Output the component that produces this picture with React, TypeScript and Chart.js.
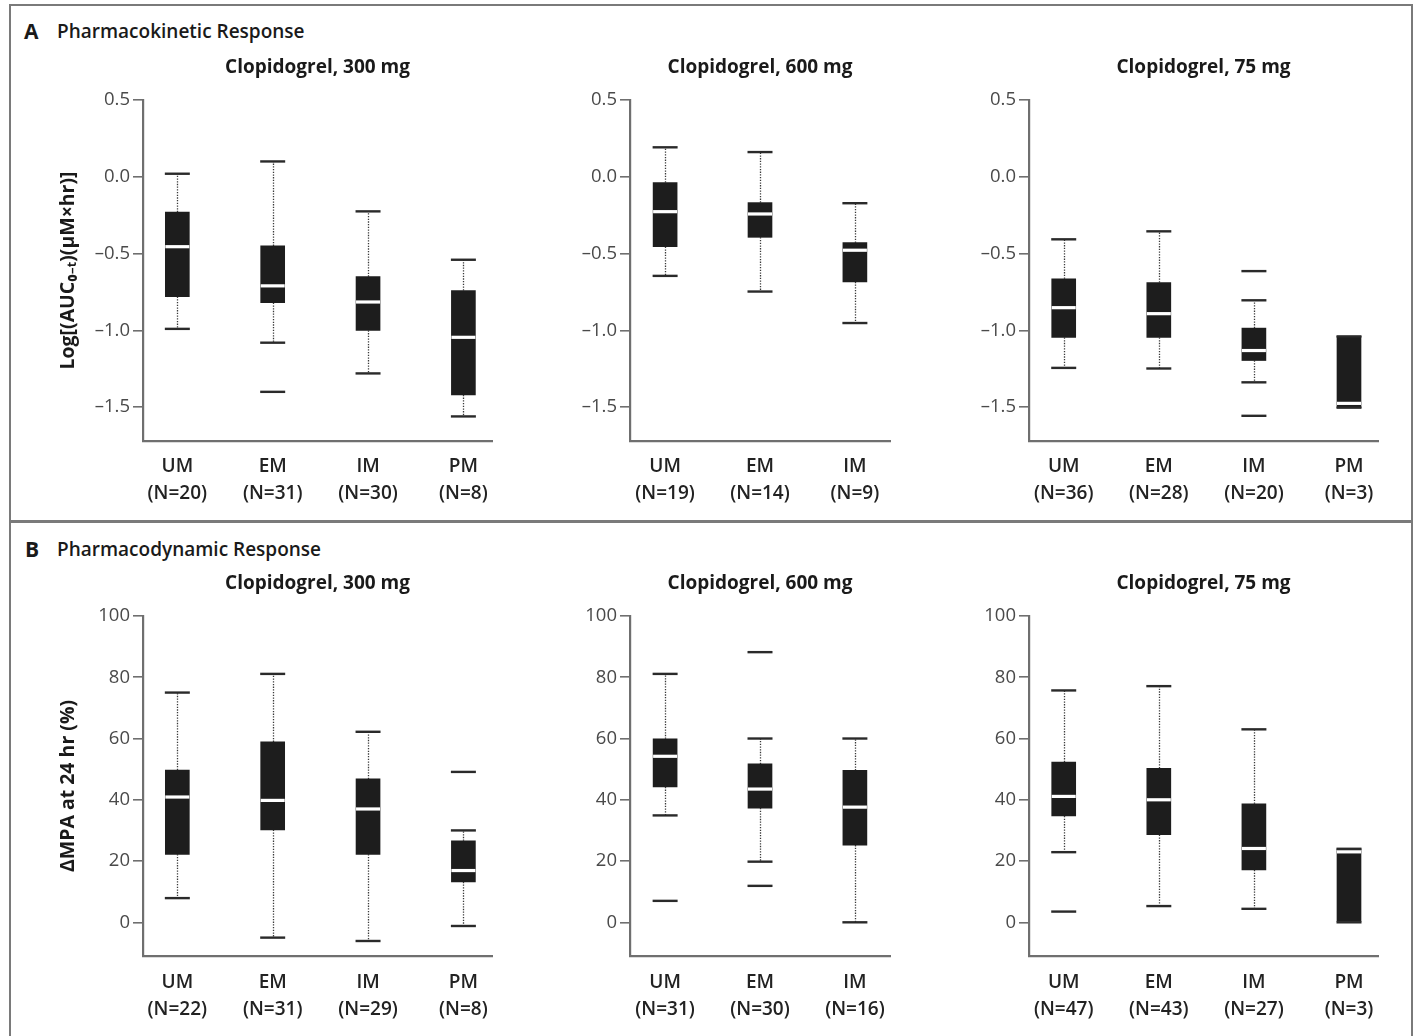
import React, { useEffect, useRef } from 'react';
import { Chart, registerables } from 'chart.js';

Chart.register(...registerables);

const FONT = "'Open Sans', 'Noto Sans', sans-serif";
Chart.defaults.font.family = FONT;

// ---------- A: Pharmacokinetic response, Log[(AUC0-t)(uM x hr)] ----------
const pkCats300 = ['UM', 'EM', 'IM', 'PM'];
const pkN300 = [20, 31, 30, 8];
const pkMin300 = [-0.99, -1.08, -1.28, -1.56];
const pkQ1_300 = [-0.78, -0.82, -1.0, -1.42];
const pkMed300 = [-0.455, -0.71, -0.815, -1.045];
const pkQ3_300 = [-0.23, -0.45, -0.65, -0.74];
const pkMax300 = [0.02, 0.1, -0.225, -0.54];
const pkOut300 = [[], [-1.4], [], []];

const pkCats600 = ['UM', 'EM', 'IM'];
const pkN600 = [19, 14, 9];
const pkMin600 = [-0.645, -0.747, -0.952];
const pkQ1_600 = [-0.455, -0.394, -0.684];
const pkMed600 = [-0.227, -0.242, -0.478];
const pkQ3_600 = [-0.037, -0.168, -0.429];
const pkMax600 = [0.192, 0.161, -0.172];
const pkOut600 = [[], [], []];

const pkCats75 = ['UM', 'EM', 'IM', 'PM'];
const pkN75 = [36, 28, 20, 3];
const pkMin75 = [-1.244, -1.248, -1.338, -1.503];
const pkQ1_75 = [-1.046, -1.046, -1.196, -1.503];
const pkMed75 = [-0.852, -0.891, -1.131, -1.475];
const pkQ3_75 = [-0.664, -0.688, -0.985, -1.039];
const pkMax75 = [-0.407, -0.355, -0.804, -1.039];
const pkOut75 = [[], [], [-0.614, -1.556], []];

const pkTicks = [-1.5, -1.0, -0.5, 0.0, 0.5];

// ---------- B: Pharmacodynamic response, delta MPA at 24 hr (%) ----------
const pdCats300 = ['UM', 'EM', 'IM', 'PM'];
const pdN300 = [22, 31, 29, 8];
const pdMin300 = [7.9, -5.0, -6.1, -1.2];
const pdQ1_300 = [22.2, 30.2, 22.2, 13.2];
const pdMed300 = [40.9, 39.8, 37.0, 16.9];
const pdQ3_300 = [49.7, 58.9, 46.8, 26.6];
const pdMax300 = [75.0, 81.1, 62.2, 30.0];
const pdOut300 = [[], [], [], [49.1]];

const pdCats600 = ['UM', 'EM', 'IM'];
const pdN600 = [31, 30, 16];
const pdMin600 = [34.9, 19.8, 0];
const pdQ1_600 = [44.2, 37.3, 25.2];
const pdMed600 = [54.2, 43.5, 37.6];
const pdQ3_600 = [59.9, 51.7, 49.6];
const pdMax600 = [81.1, 60.0, 60.0];
const pdOut600 = [[7.0], [88.2, 11.9], []];

const pdCats75 = ['UM', 'EM', 'IM', 'PM'];
const pdN75 = [47, 43, 27, 3];
const pdMin75 = [22.9, 5.3, 4.4, 0];
const pdQ1_75 = [34.7, 28.6, 17.1, 0];
const pdMed75 = [41.1, 40.0, 24.1, 23.0];
const pdQ3_75 = [52.3, 50.3, 38.7, 24.0];
const pdMax75 = [75.7, 77.1, 63.0, 24.0];
const pdOut75 = [[3.5], [], [], []];

const pdTicks = [0, 20, 40, 60, 80, 100];

type BoxSet = {
  cats: string[];
  n: number[];
  min: number[];
  q1: number[];
  med: number[];
  q3: number[];
  max: number[];
  out: number[][];
};

const INK = '#1d1d1d';
const AXIS = '#6f6f6f';

function makeBoxPlugin(d: BoxSet) {
  const capHalf = 12.5;
  return {
    id: 'boxWhisker',
    beforeDatasetsDraw(chart: any) {
      const { ctx, scales } = chart;
      const x = scales.x;
      const y = scales.y;
      ctx.save();
      ctx.strokeStyle = '#3a3a3a';
      ctx.lineWidth = 1.3;
      ctx.setLineDash([1.3, 1.4]);
      d.cats.forEach((_, i) => {
        const px = Math.round(x.getPixelForValue(i)) + 0.5;
        ctx.beginPath();
        if (d.max[i] > d.q3[i]) {
          ctx.moveTo(px, y.getPixelForValue(d.q3[i]));
          ctx.lineTo(px, y.getPixelForValue(d.max[i]));
        }
        if (d.min[i] < d.q1[i]) {
          ctx.moveTo(px, y.getPixelForValue(d.q1[i]));
          ctx.lineTo(px, y.getPixelForValue(d.min[i]));
        }
        ctx.stroke();
      });
      ctx.restore();
    },
    afterDatasetsDraw(chart: any) {
      const { ctx, scales } = chart;
      const x = scales.x;
      const y = scales.y;
      ctx.save();
      ctx.setLineDash([]);
      // medians
      ctx.strokeStyle = '#ffffff';
      ctx.lineWidth = 3.2;
      d.cats.forEach((_, i) => {
        const px = x.getPixelForValue(i);
        const py = y.getPixelForValue(d.med[i]);
        ctx.beginPath();
        ctx.moveTo(px - 12, py);
        ctx.lineTo(px + 12, py);
        ctx.stroke();
      });
      // caps and outliers
      ctx.strokeStyle = '#2a2a2a';
      ctx.lineWidth = 2.4;
      d.cats.forEach((_, i) => {
        const px = x.getPixelForValue(i);
        const vals = [d.max[i], d.min[i], ...d.out[i]];
        vals.forEach((v) => {
          const py = y.getPixelForValue(v);
          ctx.beginPath();
          ctx.moveTo(px - capHalf, py);
          ctx.lineTo(px + capHalf, py);
          ctx.stroke();
        });
      });
      ctx.restore();
    },
  };
}

type PanelProps = {
  set: BoxSet;
  left: number;
  top: number;
  width: number;
  height: number;
  yW: number;
  xH: number;
  rightPad: number;
  xMin: number;
  xMax: number;
  yMin: number;
  yMax: number;
  yTicks: number[];
  fmt: (v: number) => string;
  yTitle?: string;
  title: string;
  labelPad: number;
};

function BoxPanel(p: PanelProps) {
  const ref = useRef<HTMLCanvasElement>(null);
  useEffect(() => {
    const set = p.set;
    const chart = new Chart(ref.current as HTMLCanvasElement, {
      type: 'bar',
      data: {
        datasets: [
          {
            data: set.cats.map((_, i) => ({ x: i, y: [set.q1[i], set.q3[i]] })) as any,
            backgroundColor: INK,
            barThickness: 24,
            borderWidth: 0,
            borderSkipped: false,
          } as any,
        ],
      },
      options: {
        responsive: false,
        animation: false,
        devicePixelRatio: 1,
        layout: { padding: { left: 0, right: p.rightPad, top: 0, bottom: 0 } },
        plugins: {
          legend: { display: false },
          tooltip: { enabled: false },
          title: {
            display: true,
            text: p.title,
            fullSize: false,
            font: { size: 19, weight: 'bold', lineHeight: 1.2 },
            color: '#1a1a1a',
            padding: { top: 16.6, bottom: 20.6 },
          },
        },
        scales: {
          x: {
            type: 'linear',
            offset: false,
            min: p.xMin,
            max: p.xMax,
            afterBuildTicks: (s: any) => {
              s.ticks = set.cats.map((_, i) => ({ value: i }));
            },
            afterFit: (s: any) => {
              s.height = p.xH;
            },
            grid: { display: false, offset: false },
            border: { display: true, color: AXIS, width: 2.2 },
            ticks: {
              padding: p.labelPad,
              autoSkip: false,
              maxRotation: 0,
              font: { size: 19, weight: 600, lineHeight: 1.42 },
              color: '#222',
              callback: (v: any) => {
                const i = Math.round(Number(v));
                return set.cats[i] !== undefined ? [set.cats[i], `(N=${set.n[i]})`] : '';
              },
            },
          },
          y: {
            min: p.yMin,
            max: p.yMax,
            afterBuildTicks: (s: any) => {
              s.ticks = p.yTicks.map((v) => ({ value: v }));
            },
            afterFit: (s: any) => {
              s.width = p.yW;
            },
            grid: {
              drawOnChartArea: false,
              drawTicks: true,
              tickLength: 10,
              color: AXIS,
              lineWidth: 1.6,
            },
            border: { display: true, color: AXIS, width: 2.2 },
            ticks: {
              padding: 3,
              font: { size: 18.5 },
              color: '#4a4a4a',
              callback: (v: any) => p.fmt(Number(v)),
            },
            title: p.yTitle
              ? {
                  display: true,
                  text: p.yTitle,
                  font: { size: 19.5, weight: 'bold', lineHeight: 1.2 },
                  color: '#1a1a1a',
                  padding: { top: 46.3, bottom: 0 },
                }
              : { display: false },
          },
        },
      } as any,
      plugins: [makeBoxPlugin(set) as any],
    });
    return () => chart.destroy();
  }, []);
  return (
    <canvas
      ref={ref}
      width={p.width}
      height={p.height}
      style={{ position: 'absolute', left: p.left, top: p.top, width: p.width, height: p.height }}
    />
  );
}

const fmtPk = (v: number) => (v < 0 ? '–' : '') + Math.abs(v).toFixed(1);
const fmtPd = (v: number) => String(v);

const cols = [
  { left: 10, width: 500, yW: 133, rightPad: 18, xMin: -0.36, xMax: 3.3 },
  { left: 520, width: 390, yW: 110, rightPad: 20, xMin: -0.37, xMax: 2.37 },
  { left: 940, width: 460, yW: 89, rightPad: 22, xMin: -0.365, xMax: 3.305 },
];

const pkSets: BoxSet[] = [
  { cats: pkCats300, n: pkN300, min: pkMin300, q1: pkQ1_300, med: pkMed300, q3: pkQ3_300, max: pkMax300, out: pkOut300 },
  { cats: pkCats600, n: pkN600, min: pkMin600, q1: pkQ1_600, med: pkMed600, q3: pkQ3_600, max: pkMax600, out: pkOut600 },
  { cats: pkCats75, n: pkN75, min: pkMin75, q1: pkQ1_75, med: pkMed75, q3: pkQ3_75, max: pkMax75, out: pkOut75 },
];
const pdSets: BoxSet[] = [
  { cats: pdCats300, n: pdN300, min: pdMin300, q1: pdQ1_300, med: pdMed300, q3: pdQ3_300, max: pdMax300, out: pdOut300 },
  { cats: pdCats600, n: pdN600, min: pdMin600, q1: pdQ1_600, med: pdMed600, q3: pdQ3_600, max: pdMax600, out: pdOut600 },
  { cats: pdCats75, n: pdN75, min: pdMin75, q1: pdQ1_75, med: pdMed75, q3: pdQ3_75, max: pdMax75, out: pdOut75 },
];
const doseTitles = ['Clopidogrel, 300 mg', 'Clopidogrel, 600 mg', 'Clopidogrel, 75 mg'];

export default function App() {
  const headA: React.CSSProperties = {
    position: 'absolute',
    fontFamily: FONT,
    color: '#1a1a1a',
    lineHeight: '20px',
    whiteSpace: 'nowrap',
  };
  return (
    <div
      style={{
        position: 'absolute',
        left: 0,
        top: 0,
        width: 1415,
        height: 1036,
        background: '#fff',
        overflow: 'hidden',
      }}
    >
      <div
        style={{
          position: 'absolute',
          left: 9,
          top: 4,
          width: 1400,
          height: 1040,
          border: '2.5px solid #7a7a7a',
        }}
      />
      <div style={{ position: 'absolute', left: 9, top: 520, width: 1404, height: 2.5, background: '#7a7a7a' }} />

      <div style={{ ...headA, left: 24, top: 21, fontSize: 21, fontWeight: 700 }}>A</div>
      <div style={{ ...headA, left: 57, top: 21, fontSize: 19, fontWeight: 600 }}>Pharmacokinetic Response</div>
      <div style={{ ...headA, left: 25, top: 539, fontSize: 21, fontWeight: 700 }}>B</div>
      <div style={{ ...headA, left: 57, top: 539, fontSize: 19, fontWeight: 600 }}>Pharmacodynamic Response</div>

      {cols.map((c, k) => (
        <BoxPanel
          key={'a' + k}
          set={pkSets[k]}
          left={c.left}
          top={40}
          width={c.width}
          height={480}
          yW={c.yW}
          xH={79}
          rightPad={c.rightPad}
          xMin={c.xMin}
          xMax={c.xMax}
          yMin={-1.72}
          yMax={0.5}
          yTicks={pkTicks}
          fmt={fmtPk}
          yTitle={k === 0 ? 'Log[(AUC₀₋ₜ)(μM×hr)]' : undefined}
          title={doseTitles[k]}
          labelPad={4.5}
        />
      ))}
      {cols.map((c, k) => (
        <BoxPanel
          key={'b' + k}
          set={pdSets[k]}
          left={c.left}
          top={556}
          width={c.width}
          height={480}
          yW={c.yW}
          xH={80}
          rightPad={c.rightPad}
          xMin={c.xMin}
          xMax={c.xMax}
          yMin={-11}
          yMax={100}
          yTicks={pdTicks}
          fmt={fmtPd}
          yTitle={k === 0 ? 'ΔMPA at 24 hr (%)' : undefined}
          title={doseTitles[k]}
          labelPad={5}
        />
      ))}
    </div>
  );
}
